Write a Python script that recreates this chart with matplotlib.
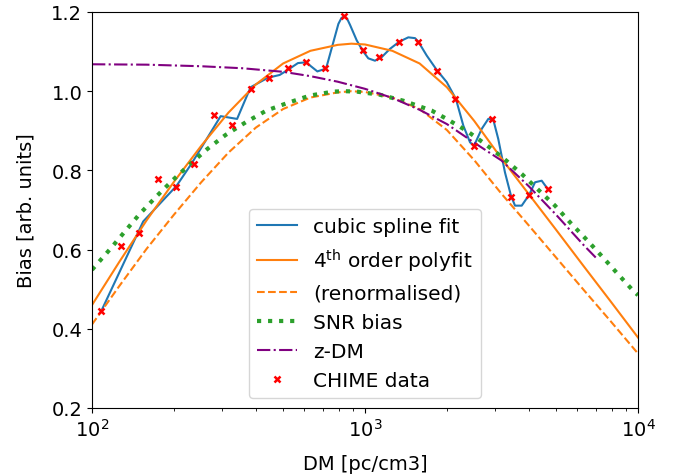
import matplotlib
matplotlib.use("Agg")
import matplotlib.pyplot as plt

# CHIME data points
chime_dm = [108, 128, 149, 174, 203, 237, 279, 327, 382, 446, 522, 608, 716, 838,
            981, 1128, 1334, 1567, 1829, 2140, 2506, 2927, 3418, 3999, 4690]
chime_bias = [0.445, 0.609, 0.642, 0.778, 0.759, 0.817, 0.941, 0.915, 1.006, 1.033,
              1.059, 1.073, 1.059, 1.191, 1.105, 1.086, 1.124, 1.124, 1.052, 0.980,
              0.862, 0.929, 0.732, 0.739, 0.752]

# cubic spline fit
spline_dm = [108, 154, 204, 231, 296, 340, 381, 441, 487, 522, 568, 608, 669, 720,
             745, 799, 820, 840, 860, 882, 933, 981, 1028, 1088, 1151, 1235, 1335,
             1441, 1525, 1568, 1683, 1830, 1992, 2154, 2292, 2425, 2507, 2677, 2829,
             2951, 3078, 3256, 3426, 3544, 3750, 3999, 4195, 4439, 4693]
spline_bias = [0.444, 0.671, 0.761, 0.816, 0.937, 0.930, 1.010, 1.034, 1.041, 1.054,
               1.071, 1.073, 1.050, 1.057, 1.094, 1.170, 1.185, 1.189, 1.183, 1.167,
               1.128, 1.102, 1.083, 1.077, 1.086, 1.107, 1.125, 1.136, 1.134, 1.125,
               1.090, 1.054, 1.023, 0.980, 0.913, 0.871, 0.862, 0.905, 0.930, 0.928,
               0.879, 0.795, 0.736, 0.711, 0.711, 0.739, 0.770, 0.774, 0.751]

# 4th order polyfit and its renormalised version
poly_dm = [100, 125.9, 158.5, 199.5, 251.2, 316.2, 398.1, 501.2, 631.0, 794.3, 891.3,
           1000, 1259, 1585, 1995, 2512, 3162, 3981, 5012, 6310, 7943, 10000]
poly_bias = [0.460, 0.569, 0.674, 0.771, 0.862, 0.946, 1.017, 1.070, 1.102, 1.117, 1.120,
             1.118, 1.102, 1.070, 1.010, 0.925, 0.830, 0.740, 0.650, 0.559, 0.469, 0.378]
renorm_bias = [0.411, 0.508, 0.602, 0.688, 0.770, 0.845, 0.908, 0.955, 0.984, 0.997, 1.000,
               0.998, 0.984, 0.955, 0.902, 0.826, 0.741, 0.661, 0.580, 0.499, 0.419, 0.3375]

# SNR bias
snr_dm = [100, 116.1, 131.7, 149.5, 172.0, 198.0, 228.0, 264.5, 307.8, 365.6, 435.1,
          523.6, 628.8, 765.6, 844.9, 932.5, 1135, 1381, 1755, 1992, 2358, 2752, 3211,
          3750, 4313, 4966, 5669, 6486, 7425, 8472, 9667, 10000]
snr_bias = [0.549, 0.600, 0.645, 0.690, 0.734, 0.776, 0.815, 0.854, 0.889, 0.9215, 0.951,
            0.971, 0.989, 0.999, 1.000, 0.999, 0.991, 0.976, 0.951, 0.930, 0.900, 0.867,
            0.831, 0.791, 0.751, 0.711, 0.667, 0.625, 0.581, 0.537, 0.494, 0.485]

# z-DM
zdm_dm = [100, 158.5, 251.2, 354.8, 501.2, 631.0, 794.3, 1000, 1259, 1585, 1995, 2512,
          3162, 3981, 5012, 6310, 7000]
zdm_bias = [1.068, 1.067, 1.063, 1.058, 1.049, 1.038, 1.024, 1.006, 0.983, 0.953, 0.917,
            0.870, 0.825, 0.760, 0.688, 0.612, 0.580]

fig = plt.figure(figsize=(6.73, 4.77), dpi=100)
ax = fig.add_axes([92/673, 1-409/477, (638-92)/673, (409-13)/477])

ax.plot(spline_dm, spline_bias, color='C0', lw=1.5, label='cubic spline fit')
ax.plot(poly_dm, poly_bias, color='C1', lw=1.5, label=r'4$^{\rm th}$ order polyfit')
ax.plot(poly_dm, renorm_bias, color='C1', lw=1.5, ls='--', label='(renormalised)')
ax.plot(snr_dm, snr_bias, color='C2', lw=3, ls=':', label='SNR bias')
ax.plot(zdm_dm, zdm_bias, color='purple', lw=1.5, ls='-.', label='z-DM')
ax.plot(chime_dm, chime_bias, ls='none', marker='x', color='red', ms=5, mew=1.8,
        label='CHIME data')

ax.set_xscale('log')
ax.set_xlim(100, 10000)
ax.set_ylim(0.2, 1.2)
ax.set_xlabel('DM [pc/cm3]', fontsize=14, labelpad=10)
ax.set_ylabel('Bias [arb. units]', fontsize=14, labelpad=11)
ax.tick_params(labelsize=14)
ax.legend(loc='lower center', fontsize=14.5)

fig.savefig('out.png', dpi=100)
